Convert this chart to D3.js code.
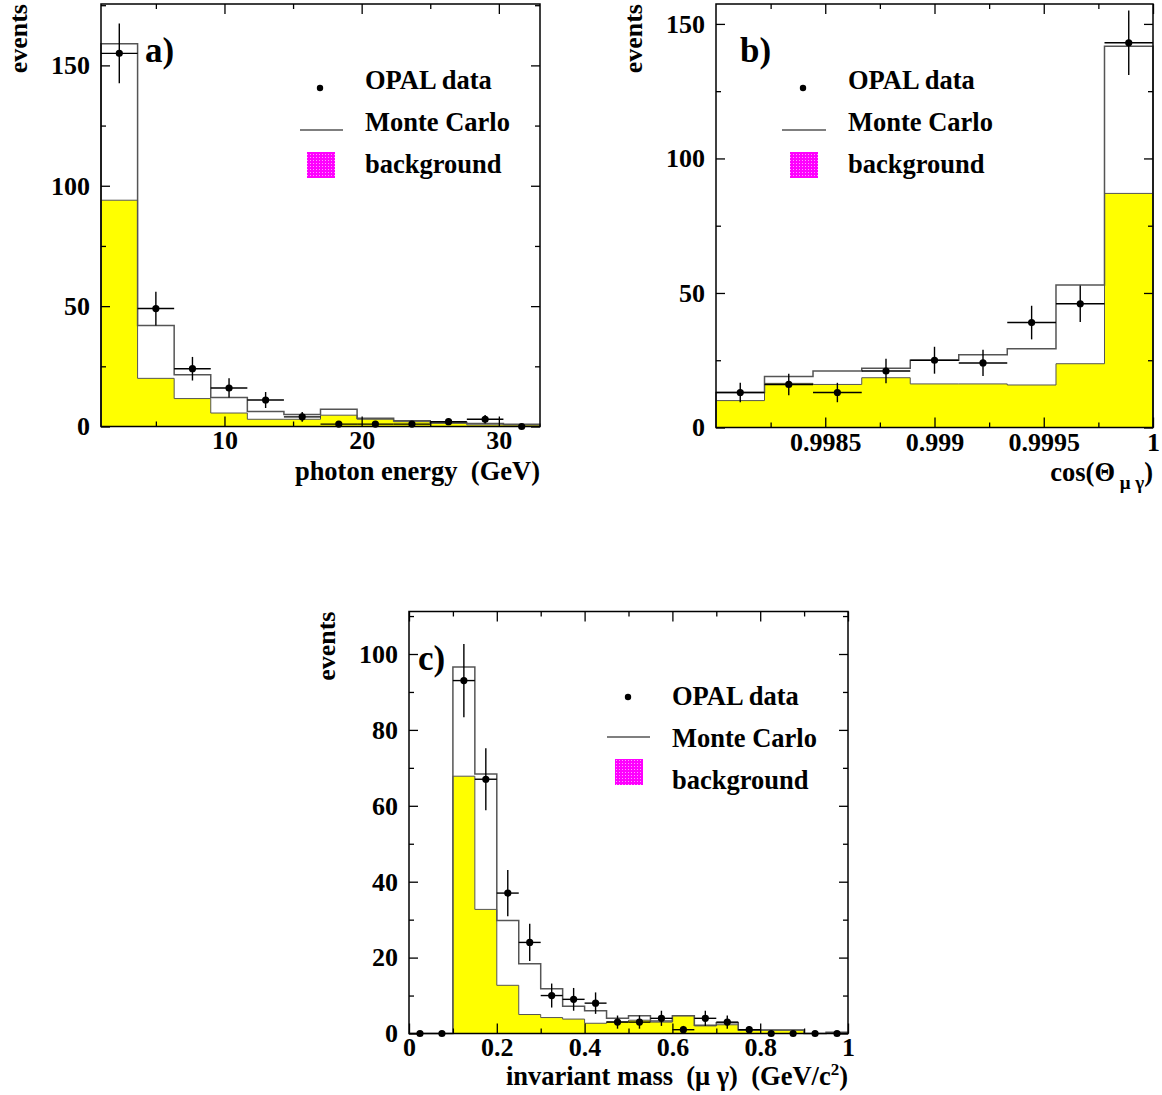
<!DOCTYPE html>
<html><head><meta charset="utf-8">
<script src="https://cdn.jsdelivr.net/npm/d3@7"></script>
<style>
body{margin:0;background:#fff}
svg text{font-family:"Liberation Serif","Times New Roman",serif;font-weight:bold;fill:#000}
</style>
</head><body>
<svg id="chart" width="1162" height="1095"></svg>
<script>
// ---------- Panel a : photon energy ----------
const aEdges = [1, 3.667, 6.333, 9, 11.667, 14.333, 17, 19.667, 22.333, 25, 27.667, 30.333, 33];
const aData  = [155, 49, 24, 16, 11, 4, 1, 1, 1, 2, 3, 0];
const aMC    = [159, 42, 21.5, 12, 6.2, 5.0, 7.2, 3.4, 2.4, 1.7, 1.2, 0.9];
const aBkg   = [94, 20, 11.6, 5.6, 3.0, 3.0, 4.7, 3.0, 2.0, 1.3, 0.7, 0.6];
const aXMajor = [10, 20, 30];
const aXLabels = ["10", "20", "30"];
const aXMinor = [5, 15, 25];
const aYMajor = [0, 50, 100, 150];
const aYLabels = ["0", "50", "100", "150"];
const aYMinor = [25, 75, 125, 175];

// ---------- Panel b : cos(theta mu gamma) ----------
const bEdges = [0.998, 0.998222, 0.998444, 0.998667, 0.998889, 0.999111, 0.999333, 0.999556, 0.999778, 1.0];
const bData  = [13, 16, 13, 21, 25, 24, 39, 46, 143];
const bMC    = [13, 19, 21, 22, 25, 27, 29.3, 53, 141.7];
const bBkg   = [10, 16.4, 16, 18.5, 16.2, 16.2, 15.8, 23.7, 87];
const bXMajor = [0.9985, 0.999, 0.9995, 1.0];
const bXLabels = ["0.9985", "0.999", "0.9995", "1"];
const bXMinor = [0.99825, 0.99875, 0.99925, 0.99975];
const bYMajor = [0, 50, 100, 150];
const bYLabels = ["0", "50", "100", "150"];
const bYMinor = [25, 75, 125];

// ---------- Panel c : invariant mass ----------
const cEdges = [0, 0.05, 0.1, 0.15, 0.2, 0.25, 0.3, 0.35, 0.4, 0.45, 0.5, 0.55, 0.6, 0.65, 0.7, 0.75, 0.8, 0.85, 0.9, 0.95, 1.0];
const cData  = [0, 0, 93, 67, 37, 24, 10, 9, 8, 3, 3, 4, 1, 4, 3, 1, 0, 0, 0, 0];
const cMC    = [0, 0, 96.6, 68.4, 29.8, 18.4, 11.8, 7.2, 6.0, 4.0, 4.7, 3.3, 4.7, 2.2, 2.8, 0.9, 0.9, 0.9, 0, 0.3];
const cBkg   = [0, 0, 67.8, 32.7, 12.7, 5.0, 4.2, 3.8, 2.7, 3.1, 3.5, 3.0, 4.7, 2.0, 2.3, 0.9, 0.9, 0.9, 0, 0];
const cXMajor = [0, 0.2, 0.4, 0.6, 0.8, 1.0];
const cXLabels = ["0", "0.2", "0.4", "0.6", "0.8", "1"];
const cXMinor = [0.1, 0.3, 0.5, 0.7, 0.9];
const cYMajor = [0, 20, 40, 60, 80, 100];
const cYLabels = ["0", "20", "40", "60", "80", "100"];
const cYMinor = [10, 30, 50, 70, 90, 110];

const legendLabels = ["OPAL data", "Monte Carlo", "background"];

const svg = d3.select("#chart");

function panel(cfg) {
  const g = svg.append("g");
  const x = d3.scaleLinear().domain(cfg.xDomain).range([cfg.left, cfg.right]);
  const y = d3.scaleLinear().domain(cfg.yDomain).range([cfg.bottom, cfg.top]);
  const n = cfg.data.length;

  // background (yellow)
  const bkPts = cfg.bkg.map((v, i) => [cfg.edges[i], v]).concat([[cfg.edges[n], cfg.bkg[n - 1]]]);
  g.append("path")
    .attr("d", d3.area().x(d => x(d[0])).y0(y(0)).y1(d => y(d[1])).curve(d3.curveStepAfter)(bkPts))
    .attr("fill", "#ffff00").attr("stroke", "none");
  const bkLine = [[cfg.edges[0], 0]];
  cfg.bkg.forEach((v, i) => { bkLine.push([cfg.edges[i], v]); bkLine.push([cfg.edges[i + 1], v]); });
  bkLine.push([cfg.edges[n], 0]);
  g.append("path").attr("d", d3.line().x(d => x(d[0])).y(d => y(d[1]))(bkLine))
    .attr("fill", "none").attr("stroke", "#555").attr("stroke-width", 1);

  // Monte Carlo outline
  const mcLine = [[cfg.edges[0], 0]];
  cfg.mc.forEach((v, i) => { mcLine.push([cfg.edges[i], v]); mcLine.push([cfg.edges[i + 1], v]); });
  mcLine.push([cfg.edges[n], 0]);
  g.append("path").attr("d", d3.line().x(d => x(d[0])).y(d => y(d[1]))(mcLine))
    .attr("fill", "none").attr("stroke", "#555").attr("stroke-width", 1.5);

  // data points
  cfg.data.forEach((v, i) => {
    const xc = (cfg.edges[i] + cfg.edges[i + 1]) / 2;
    if (v > 0) {
      const e = Math.sqrt(v);
      g.append("line").attr("x1", x(cfg.edges[i])).attr("x2", x(cfg.edges[i + 1]))
        .attr("y1", y(v)).attr("y2", y(v)).attr("stroke", "#000").attr("stroke-width", 1.4);
      g.append("line").attr("x1", x(xc)).attr("x2", x(xc))
        .attr("y1", y(v - e)).attr("y2", y(v + e)).attr("stroke", "#000").attr("stroke-width", 1.4);
    }
    g.append("circle").attr("cx", x(xc)).attr("cy", y(v)).attr("r", 3.6).attr("fill", "#000");
  });

  // axes with inward ticks
  function styleAxis(sel) {
    sel.select(".domain").remove();
    sel.selectAll(".tick line").attr("stroke", "#000").attr("stroke-width", 1.3);
    sel.attr("font-family", null).attr("font-size", null);
    sel.selectAll("text").attr("font-size", 26).style("font-family", '"Liberation Serif","Times New Roman",serif').style("font-weight", "bold");
  }
  const fmtX = d => cfg.xLabels[cfg.xMajor.indexOf(d)];
  const fmtY = d => cfg.yLabels[cfg.yMajor.indexOf(d)];
  g.append("g").attr("transform", `translate(0,${cfg.bottom})`)
    .call(d3.axisBottom(x).tickValues(cfg.xMajor).tickSize(-10).tickPadding(cfg.xPad).tickFormat(fmtX)).call(styleAxis);
  g.append("g").attr("transform", `translate(0,${cfg.bottom})`)
    .call(d3.axisBottom(x).tickValues(cfg.xMinor).tickSize(-5).tickFormat("")).call(styleAxis);
  g.append("g").attr("transform", `translate(0,${cfg.top})`)
    .call(d3.axisTop(x).tickValues(cfg.xMajor).tickSize(-10).tickFormat("")).call(styleAxis);
  g.append("g").attr("transform", `translate(0,${cfg.top})`)
    .call(d3.axisTop(x).tickValues(cfg.xMinor).tickSize(-5).tickFormat("")).call(styleAxis);
  g.append("g").attr("transform", `translate(${cfg.left},0)`)
    .call(d3.axisLeft(y).tickValues(cfg.yMajor).tickSize(-9).tickPadding(11).tickFormat(fmtY)).call(styleAxis);
  g.append("g").attr("transform", `translate(${cfg.left},0)`)
    .call(d3.axisLeft(y).tickValues(cfg.yMinor).tickSize(-5).tickFormat("")).call(styleAxis);
  g.append("g").attr("transform", `translate(${cfg.right},0)`)
    .call(d3.axisRight(y).tickValues(cfg.yMajor).tickSize(-9).tickFormat("")).call(styleAxis);
  g.append("g").attr("transform", `translate(${cfg.right},0)`)
    .call(d3.axisRight(y).tickValues(cfg.yMinor).tickSize(-5).tickFormat("")).call(styleAxis);

  // frame
  g.append("rect").attr("x", cfg.left).attr("y", cfg.top)
    .attr("width", cfg.right - cfg.left).attr("height", cfg.bottom - cfg.top)
    .attr("fill", "none").attr("stroke", "#000").attr("stroke-width", 1.5);

  // y title
  g.append("text").attr("transform", `translate(${cfg.left - 74},${cfg.top}) rotate(-90)`)
    .attr("text-anchor", "end").attr("font-size", 26).text("events");

  // x title
  cfg.xTitle(g.append("text").attr("x", cfg.right).attr("y", cfg.titleY).attr("text-anchor", "end").attr("font-size", 26.5));

  // panel label
  g.append("text").attr("x", cfg.tagX).attr("y", cfg.tagY).attr("font-size", 35).text(cfg.tag);

  // legend
  const L = cfg.legend;
  g.append("circle").attr("cx", L.dotX).attr("cy", L.dotY).attr("r", 3.2).attr("fill", "#000");
  g.append("line").attr("x1", L.lineX1).attr("x2", L.lineX2).attr("y1", L.lineY).attr("y2", L.lineY)
    .attr("stroke", "#555").attr("stroke-width", 1.5);
  g.append("rect").attr("x", L.boxX).attr("y", L.boxY).attr("width", 28).attr("height", 26).attr("fill", "url(#mag)");
  L.textY.forEach((ty, i) => g.append("text").attr("x", L.textX).attr("y", ty).attr("font-size", 26.5).text(legendLabels[i]));
}

// magenta dotted pattern for legend box
const defs = svg.append("defs");
const pat = defs.append("pattern").attr("id", "mag").attr("width", 3).attr("height", 3).attr("patternUnits", "userSpaceOnUse");
pat.append("rect").attr("width", 3).attr("height", 3).attr("fill", "#ff00ff");
pat.append("rect").attr("x", 1).attr("y", 1).attr("width", 1).attr("height", 1).attr("fill", "#ff99ff");

panel({
  left: 101, right: 540, top: 4, bottom: 426.5,
  xDomain: [1, 33], yDomain: [0, 175.5],
  edges: aEdges, data: aData, mc: aMC, bkg: aBkg,
  xMajor: aXMajor, xLabels: aXLabels, xMinor: aXMinor,
  yMajor: aYMajor, yLabels: aYLabels, yMinor: aYMinor, xPad: 4,
  titleY: 480,
  xTitle: t => t.text("photon energy\u00a0\u00a0(GeV)"),
  tag: "a)", tagX: 145, tagY: 62,
  legend: { dotX: 320, dotY: 88, lineX1: 300, lineX2: 343, lineY: 130, boxX: 307, boxY: 152,
            textX: 365, textY: [89, 131, 173] }
});

panel({
  left: 716, right: 1153, top: 4, bottom: 427.5,
  xDomain: [0.998, 1.0], yDomain: [0, 157.4],
  edges: bEdges, data: bData, mc: bMC, bkg: bBkg,
  xMajor: bXMajor, xLabels: bXLabels, xMinor: bXMinor,
  yMajor: bYMajor, yLabels: bYLabels, yMinor: bYMinor, xPad: 5,
  titleY: 481,
  xTitle: t => { t.append("tspan").text("cos(\u0398");
                 t.append("tspan").attr("dy", 8).attr("font-size", 19).text(" \u03bc \u03b3");
                 t.append("tspan").attr("dy", -8).text(")"); },
  tag: "b)", tagX: 740, tagY: 62,
  legend: { dotX: 803, dotY: 88, lineX1: 782, lineX2: 826, lineY: 130, boxX: 790, boxY: 152,
            textX: 848, textY: [89, 131, 173] }
});

panel({
  left: 409, right: 848, top: 611.5, bottom: 1033.5,
  xDomain: [0, 1], yDomain: [0, 111.2],
  edges: cEdges, data: cData, mc: cMC, bkg: cBkg,
  xMajor: cXMajor, xLabels: cXLabels, xMinor: cXMinor,
  yMajor: cYMajor, yLabels: cYLabels, yMinor: cYMinor, xPad: 4,
  titleY: 1085,
  xTitle: t => { t.append("tspan").text("invariant mass\u00a0\u00a0(\u03bc \u03b3)\u00a0\u00a0(GeV/c");
                 t.append("tspan").attr("dy", -10).attr("font-size", 17).text("2");
                 t.append("tspan").attr("dy", 10).text(")"); },
  tag: "c)", tagX: 418, tagY: 670,
  legend: { dotX: 628, dotY: 697, lineX1: 607, lineX2: 650, lineY: 737, boxX: 615, boxY: 759,
            textX: 672, textY: [705, 747, 789] }
});
</script>
</body></html>
